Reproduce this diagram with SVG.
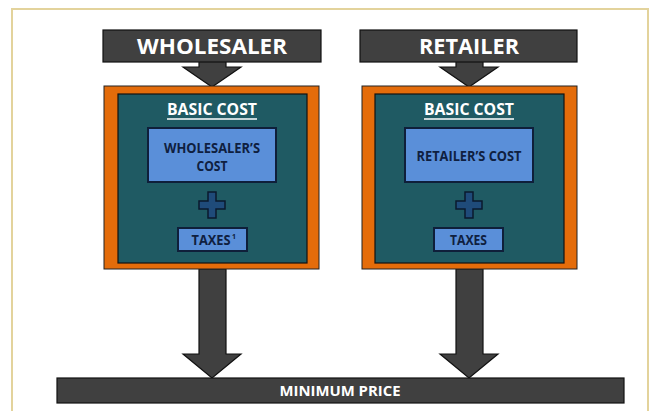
<svg xmlns="http://www.w3.org/2000/svg" width="658" height="411" viewBox="0 0 658 411">
<style>
.dark{fill:#404040;stroke:#111;stroke-width:1.2}
.orange{fill:#e46c0a;stroke:#222;stroke-width:1}
.teal{fill:#1f5a63;stroke:#111;stroke-width:1.2}
.blue{fill:#5a8fd9;stroke:#0f1f3a;stroke-width:2}
.plus{fill:#1f4b7a;stroke:#0b1a2e;stroke-width:1.5}
.t{font-family:"Open Sans","Liberation Sans",sans-serif;font-weight:bold;text-anchor:middle}
.hw{fill:#fff;font-size:22px}
.bc{fill:#fff;font-size:16px}
.nv{fill:#0f2040;font-size:13.5px}
.mp{fill:#fff;font-size:14px}
</style>
<rect x="0" y="0" width="658" height="411" fill="#fff"/>
<rect x="12" y="9" width="636" height="420" fill="none" stroke="#e3d39c" stroke-width="2"/>
<g id="connectors">
<path class="dark" d="M199,61 L226,61 L226,67 L241,67 L212,87 L183,67 L199,67 Z"/>
<path class="dark" d="M456,61 L483,61 L483,67 L498,67 L469,87 L440,67 L456,67 Z"/>
<path class="dark" d="M199,269 L226,269 L226,354 L241,354 L212,378 L183,354 L199,354 Z"/>
<path class="dark" d="M456,269 L483,269 L483,354 L498,354 L469,378 L440,354 L456,354 Z"/>
</g>
<g id="wholesaler">
<rect class="dark" x="103" y="30" width="218" height="32"/>
<text class="t hw" x="212" y="54" textLength="150" lengthAdjust="spacingAndGlyphs">WHOLESALER</text>
</g>
<g id="retailer">
<rect class="dark" x="360" y="30" width="217" height="32"/>
<text class="t hw" x="469" y="54" textLength="100" lengthAdjust="spacingAndGlyphs">RETAILER</text>
</g>
<g id="wholesaler-basic-cost">
<rect class="orange" x="104" y="86" width="215" height="183"/>
<rect class="teal" x="118" y="94" width="189" height="169"/>
<text class="t bc" x="212" y="115" textLength="90" lengthAdjust="spacingAndGlyphs">BASIC COST</text>
<line x1="167" y1="119" x2="257" y2="119" stroke="#fff" stroke-width="1.3"/>
</g>
<g id="wholesalers-cost">
<rect class="blue" x="148" y="128" width="128" height="54"/>
<text class="t nv" x="212" y="153" textLength="96" lengthAdjust="spacingAndGlyphs">WHOLESALER’S</text>
<text class="t nv" x="212" y="171" textLength="31" lengthAdjust="spacingAndGlyphs">COST</text>
</g>
<g id="plus-1">
<path class="plus" d="M208,192 L216,192 L216,201 L225,201 L225,209 L216,209 L216,218 L208,218 L208,209 L199,209 L199,201 L208,201 Z"/>
</g>
<g id="wholesaler-taxes">
<rect class="blue" x="178" y="228" width="69" height="23"/>
<text class="t nv" x="211" y="245" textLength="39" lengthAdjust="spacingAndGlyphs">TAXES</text>
<text class="t" x="234" y="239" fill="#0f2040" font-size="7">1</text>
</g>
<g id="retailer-basic-cost">
<rect class="orange" x="362" y="86" width="215" height="183"/>
<rect class="teal" x="375" y="94" width="189" height="169"/>
<text class="t bc" x="469" y="115" textLength="90" lengthAdjust="spacingAndGlyphs">BASIC COST</text>
<line x1="424" y1="119" x2="514" y2="119" stroke="#fff" stroke-width="1.3"/>
</g>
<g id="retailers-cost">
<rect class="blue" x="405" y="128" width="128" height="54"/>
<text class="t nv" x="469" y="161" textLength="105" lengthAdjust="spacingAndGlyphs">RETAILER’S COST</text>
</g>
<g id="plus-2">
<path class="plus" d="M465,192 L473,192 L473,201 L482,201 L482,209 L473,209 L473,218 L465,218 L465,209 L456,209 L456,201 L465,201 Z"/>
</g>
<g id="retailer-taxes">
<rect class="blue" x="434" y="228" width="69" height="23"/>
<text class="t nv" x="468.5" y="245" textLength="37" lengthAdjust="spacingAndGlyphs">TAXES</text>
</g>
<g id="minimum-price">
<rect class="dark" x="57" y="378" width="567" height="25"/>
<text class="t mp" x="340" y="395.5" textLength="121" lengthAdjust="spacingAndGlyphs">MINIMUM PRICE</text>
</g>
</svg>
